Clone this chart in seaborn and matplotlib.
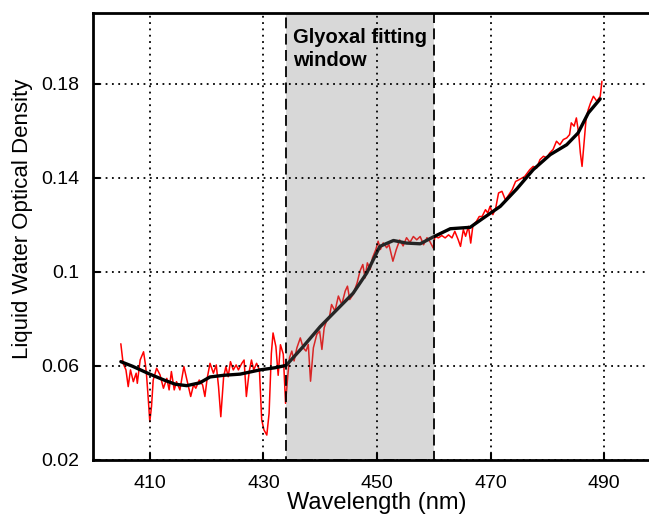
import pandas as pd
import seaborn as sns
import matplotlib.pyplot as plt

# measured liquid water optical density (noisy, red)
meas_wl = [404.9, 405.3, 405.8, 406.2, 406.6, 407.1, 407.6, 407.8, 408.3, 408.9,
           409.2, 409.4, 409.7, 410.0, 410.3, 410.6, 411.2, 411.8, 412.4, 413.0,
           413.4, 413.8, 414.3, 414.7, 415.3, 416.0, 416.6, 417.2, 417.7, 418.1,
           418.7, 419.3, 419.7, 420.1, 420.6, 421.2, 421.7, 422.1, 422.5, 423.0,
           423.4, 423.8, 424.2, 424.7, 425.2, 425.6, 426.2, 426.6, 427.0, 427.5,
           427.9, 428.3, 428.8, 429.3, 429.7, 430.1, 430.6, 431.0, 431.4, 431.7,
           432.2, 432.6, 433.0, 433.5, 433.9, 434.3, 434.6, 435.0, 435.4, 435.9,
           436.5, 437.0, 437.5, 437.9, 438.3, 438.8, 439.4, 439.9, 440.3, 440.7,
           441.1, 441.6, 442.0, 442.6, 443.2, 443.8, 444.4, 444.8, 445.2, 445.8,
           446.5, 447.0, 447.5, 447.9, 448.3, 448.8, 449.2, 449.8, 450.2, 450.6,
           451.1, 451.7, 452.1, 452.8, 453.4, 454.0, 454.6, 455.2, 455.8, 456.4,
           457.0, 457.6, 458.2, 458.8, 459.3, 459.9, 460.2, 460.8, 461.4, 462.0,
           462.6, 463.2, 463.7, 464.3, 464.7, 465.2, 465.6, 466.1, 466.5, 466.9,
           467.5, 468.0, 468.5, 469.1, 469.5, 469.9, 470.4, 470.9, 471.4, 472.0,
           472.6, 473.2, 473.8, 474.4, 474.9, 476.0, 476.9, 477.5, 478.1, 478.7,
           479.3, 479.9, 480.4, 481.0, 481.6, 482.2, 482.8, 483.4, 483.9, 484.2,
           484.7, 485.1, 485.5, 485.8, 486.1, 486.4, 486.8, 487.2, 487.6, 488.1,
           488.7, 489.3, 489.6]
meas_od = [0.0694, 0.0611, 0.0583, 0.0512, 0.0583, 0.0533, 0.0569, 0.0526, 0.0625, 0.0660,
           0.0611, 0.0569, 0.0470, 0.0363, 0.0427, 0.0540, 0.0590, 0.0562, 0.0505, 0.0547,
           0.0498, 0.0576, 0.0498, 0.0533, 0.0498, 0.0597, 0.0533, 0.0470, 0.0519, 0.0505,
           0.0540, 0.0519, 0.0470, 0.0547, 0.0611, 0.0569, 0.0604, 0.0512, 0.0384, 0.0554,
           0.0597, 0.0554, 0.0618, 0.0583, 0.0604, 0.0583, 0.0611, 0.0625, 0.0470, 0.0576,
           0.0625, 0.0583, 0.0611, 0.0583, 0.0370, 0.0328, 0.0306, 0.0398, 0.0653, 0.0740,
           0.0682, 0.0560, 0.0690, 0.0650, 0.0441, 0.0560, 0.0635, 0.0663, 0.0621, 0.0677,
           0.0719, 0.0677, 0.0663, 0.0691, 0.0535, 0.0677, 0.0734, 0.0748, 0.0670, 0.0762,
           0.0790, 0.0804, 0.0861, 0.0833, 0.0897, 0.0861, 0.0918, 0.0939, 0.0882, 0.0904,
           0.0953, 0.1003, 0.1031, 0.0974, 0.1038, 0.1010, 0.1059, 0.1095, 0.1130, 0.1095,
           0.1123, 0.1102, 0.1116, 0.1045, 0.1095, 0.1135, 0.1110, 0.1145, 0.1125, 0.1150,
           0.1136, 0.1150, 0.1115, 0.1145, 0.1129, 0.1101, 0.1151, 0.1144, 0.1154, 0.1144,
           0.1157, 0.1144, 0.1172, 0.1136, 0.1108, 0.1179, 0.1151, 0.1193, 0.1122, 0.1200,
           0.1214, 0.1235, 0.1235, 0.1264, 0.1250, 0.1278, 0.1243, 0.1271, 0.1335, 0.1342,
           0.1306, 0.1327, 0.1349, 0.1384, 0.1390, 0.1405, 0.1434, 0.1448, 0.1441, 0.1477,
           0.1491, 0.1484, 0.1505, 0.1520, 0.1555, 0.1540, 0.1562, 0.1569, 0.1583, 0.1633,
           0.1619, 0.1654, 0.1590, 0.1505, 0.1448, 0.1534, 0.1647, 0.1690, 0.1718, 0.1746,
           0.1725, 0.1746, 0.1810]

# smooth reference curve (black)
ref_wl = [404.9, 407.0, 410.0, 412.5, 414.5, 416.5, 418.8, 420.6, 423.0, 425.9,
          429.4, 432.0, 434.0, 437.0, 440.0, 442.9, 445.8, 448.2, 450.5, 452.9,
          455.2, 457.6, 459.9, 462.9, 466.4, 468.7, 471.7, 474.6, 477.5, 480.5,
          483.4, 485.4, 487.2, 489.3]
ref_od = [0.0618, 0.0598, 0.0565, 0.0540, 0.0522, 0.0516, 0.0528, 0.0553, 0.0560, 0.0565,
          0.0583, 0.0592, 0.0602, 0.0682, 0.0767, 0.0838, 0.0909, 0.0995, 0.1108, 0.1133,
          0.1122, 0.1119, 0.1148, 0.1183, 0.1189, 0.1228, 0.1278, 0.1352, 0.1434, 0.1498,
          0.1540, 0.1590, 0.1675, 0.1735]

window = (434, 460)
x_ticks = [410, 430, 450, 470, 490]
y_ticks = [0.02, 0.06, 0.1, 0.14, 0.18]
y_tick_labels = ['0.02', '0.06', '0.1', '0.14', '0.18']

sns.set_style("ticks")
plt.rcParams['font.family'] = ['Liberation Sans', 'DejaVu Sans']
plt.rcParams['text.color'] = 'black'
plt.rcParams['axes.labelcolor'] = 'black'
plt.rcParams['xtick.color'] = 'black'
plt.rcParams['ytick.color'] = 'black'

meas = pd.DataFrame({'wl': meas_wl, 'od': meas_od})
ref = pd.DataFrame({'wl': ref_wl, 'od': ref_od})

fig = plt.figure(figsize=(6.49, 5.15), dpi=100)
# the right edge of the axes runs past the figure edge, as in the source image
ax = fig.add_axes([93 / 649, 55 / 515, 568 / 649, 447 / 515])

sns.lineplot(data=meas, x='wl', y='od', color='red', linewidth=1.1,
             estimator=None, sort=False, ax=ax, zorder=2)
sns.lineplot(data=ref, x='wl', y='od', color='black', linewidth=2.4,
             estimator=None, sort=False, ax=ax, zorder=2.1)

# fitting window: translucent grey over the lines, dashed black outline
ax.axvspan(*window, facecolor=(0.5, 0.5, 0.5), alpha=0.3, linewidth=0, zorder=2.2)
ax.axvspan(*window, fill=False, edgecolor='black', linestyle=(0, (6, 3)),
           linewidth=1.3, zorder=2.3)
ax.text(435.2, 0.2035, 'Glyoxal fitting\nwindow', fontsize=14.5, fontweight='bold',
        ha='left', va='top', linespacing=1.25)

ax.set_xlim(400, 500)
ax.set_ylim(0.02, 0.21)
ax.set_xticks(x_ticks)
ax.set_yticks(y_ticks)
ax.set_yticklabels(y_tick_labels)
ax.tick_params(direction='in', length=5, width=1.5, labelsize=14,
               top=False, right=False)
ax.tick_params(axis='x', pad=11)
ax.tick_params(axis='y', pad=10)

ax.set_axisbelow(False)
ax.grid(True, color='black', linestyle=(0, (1, 2.5)), linewidth=1.3)

for side in ['left', 'bottom', 'top']:
    ax.spines[side].set_linewidth(2)
    ax.spines[side].set_color('black')
ax.spines['right'].set_visible(False)

ax.set_xlabel('Wavelength (nm)', fontsize=17)
ax.set_ylabel('Liquid Water Optical Density', fontsize=16)
ax.xaxis.set_label_coords(284 / 568, -32 / 447)
ax.yaxis.set_label_coords(-60 / 568, 0.54)

plt.savefig('out.png', dpi=100)
